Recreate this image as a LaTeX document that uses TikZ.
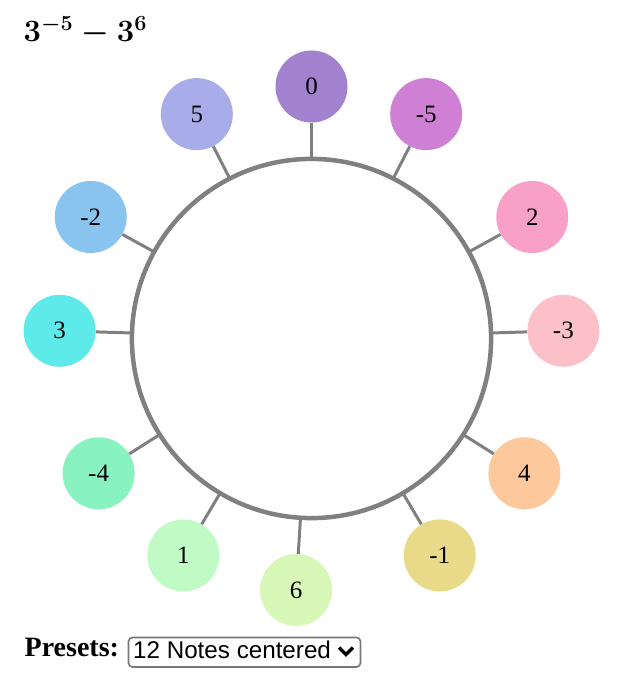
\RequirePackage{fix-cm}
\documentclass[tikz,border=0pt]{standalone}
\usepackage{fontspec}
\setmainfont{Liberation Serif}
\setsansfont{Liberation Sans}
\usepackage{tikz}
\usetikzlibrary{calc}
\definecolor{ringgray}{HTML}{808080}
\definecolor{boxgray}{HTML}{767676}
\definecolor{c0}{HTML}{A282CE}
\definecolor{cm5}{HTML}{D080D4}
\definecolor{cp2}{HTML}{F8A0C8}
\definecolor{cm3}{HTML}{FCC0C8}
\definecolor{cp4}{HTML}{FCC89C}
\definecolor{cm1}{HTML}{E8DA88}
\definecolor{cp6}{HTML}{D8F8B8}
\definecolor{cp1}{HTML}{C0FAC4}
\definecolor{cm4}{HTML}{88F2C0}
\definecolor{cp3}{HTML}{5EEAE8}
\definecolor{cm2}{HTML}{88C4EE}
\definecolor{cp5}{HTML}{A8ACE8}
\tikzset{
  note/.style={circle,fill=#1,minimum size=72pt,inner sep=0pt,font=\fontsize{25}{25}\selectfont},
  spoke/.style={line width=3pt,ringgray},
  ring/.style={line width=4.5pt,ringgray},
  selbox/.style={draw=boxgray,line width=1.6pt,rounded corners=4pt,minimum width=232pt,minimum height=29.5pt,inner sep=0pt}
}

\begin{document}
\begin{tikzpicture}[x=1pt,y=1pt]
  \useasboundingbox (0,0) rectangle (634,-674);
  \coordinate (c) at (311.5,-338.5);
  \foreach \k/\nm/\col in {0/n0/c0,-5/nm5/cm5,2/np2/cp2,-3/nm3/cm3,4/np4/cp4,-1/nm1/cm1,
                           6/np6/cp6,1/np1/cp1,-4/nm4/cm4,3/np3/cp3,-2/nm2/cm2,5/np5/cp5}{
    \pgfmathsetmacro\ang{90-360*mod(\k*1.5849625+10,1)}
    \coordinate (r\nm) at ($(c)+(\ang:179.6)$);
    \node[note=\col] (\nm) at ($(c)+(\ang:252)$) {\k};
    \draw[spoke] (r\nm) -- (\nm);
  }
  \draw[ring] (c) circle (179.6);

  \node[anchor=base west,inner sep=0pt,font=\fontsize{31}{36}\selectfont\boldmath] (title) at (23.5,-41.5) {$3^{-5}-3^{6}$};
  \node[anchor=base west,inner sep=0pt,font=\fontsize{28}{32}\selectfont\bfseries] (presets) at (24.5,-656.7) {Presets:};
  \node[selbox] (sel) at (244.5,-652.2) {};
  \node[anchor=base west,inner sep=0pt,font=\fontsize{24.2}{28}\sffamily] (seltext) at (133,-658.3) {12 Notes centered};
  \draw[line width=3.5pt] (339,-647.5) -- (346,-654.5) -- (353,-647.5);
\end{tikzpicture}
\end{document}
